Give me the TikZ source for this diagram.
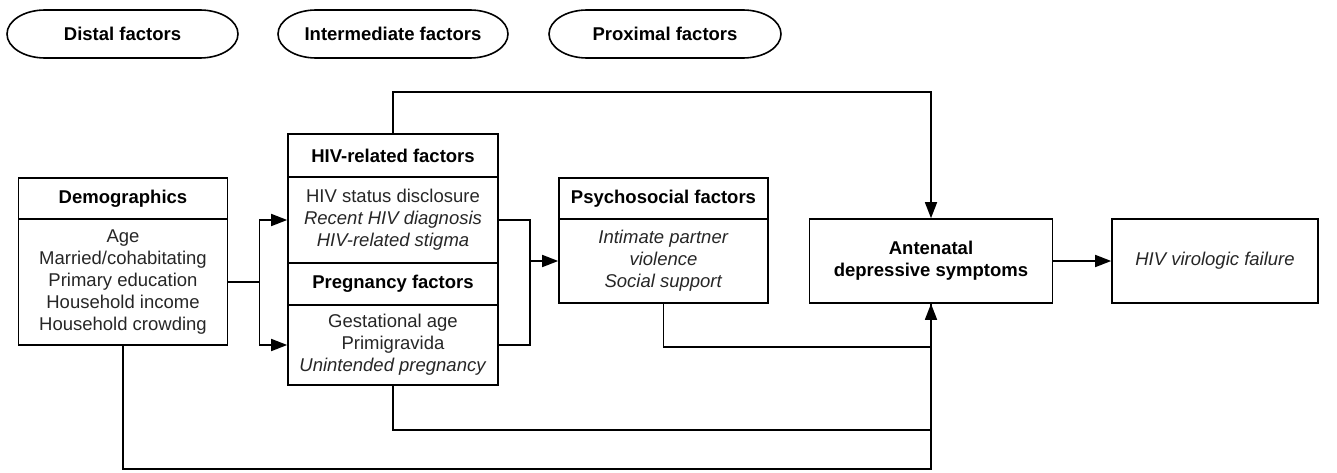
\documentclass[tikz,border=0pt]{standalone}
\usepackage{fontspec}
\setmainfont{Liberation Sans}
\usetikzlibrary{arrows.meta}
\newcommand{\figfont}{\fontsize{18.5}{22}\selectfont}
\tikzset{
  phase/.style={font=\figfont\bfseries, inner sep=0pt, outer sep=0pt, minimum height=48pt},
  boxsize/.style 2 args={minimum width=#1pt, minimum height=#2pt},
  boxhead/.style={draw, line width=1.6pt, font=\figfont\bfseries, align=center, inner sep=0pt},
  boxbody/.style={draw, line width=1.6pt, font=\figfont, align=center, inner sep=0pt, text=black!85},
  link/.style={line width=1.6pt},
  arr/.style={line width=1.6pt, -{Triangle[length=16pt,width=12pt]}},
}

\begin{document}
\begin{tikzpicture}[x=1pt,y=-1pt]
  \useasboundingbox (0,0) rectangle (1337,473);
  % phase labels
  \node [phase, minimum width=231pt] (distal) at (122.5,34) {Distal factors};
  \node [phase, minimum width=230pt] (inter) at (393,34) {Intermediate factors};
  \node [phase, minimum width=232pt] (proxi) at (665,34) {Proximal factors};
  \foreach \p in {distal,inter,proxi}
    \draw [link] ([xshift=38pt]\p.north west) -- ([xshift=-38pt]\p.north east)
      arc [start angle=90, end angle=-90, x radius=38pt, y radius=24pt]
      -- ([xshift=38pt]\p.south west)
      arc [start angle=270, end angle=90, x radius=38pt, y radius=24pt] -- cycle;
  % distal
  \node [boxhead, boxsize={209}{41}] (demohead) at (123,198.5) {Demographics};
  \node [boxbody, boxsize={209}{126}] (demobody) at (123,282)
    {Age\\Married/cohabitating\\Primary education\\Household income\\Household crowding};
  % intermediate
  \node [boxhead, boxsize={210}{43}] (hivhead) at (393,155.5) {HIV-related factors};
  \node [boxbody, boxsize={210}{86}] (hivbody) at (393,220)
    {HIV status disclosure\\\textit{Recent HIV diagnosis}\\\textit{HIV-related stigma}};
  \node [boxhead, boxsize={210}{42}] (preghead) at (393,284) {Pregnancy factors};
  \node [boxbody, boxsize={210}{80}] (pregbody) at (393,345)
    {Gestational age\\Primigravida\\\textit{Unintended pregnancy}};
  % proximal
  \node [boxhead, boxsize={209}{41}] (psyhead) at (663.5,198.5) {Psychosocial factors};
  \node [boxbody, boxsize={209}{84}] (psybody) at (663.5,261)
    {\textit{Intimate partner}\\\textit{violence}\\\textit{Social support}};
  % outcomes
  \node [boxhead, boxsize={243}{84}] (antenatal) at (931,261) {Antenatal\\depressive symptoms};
  \node [boxbody, boxsize={206}{84}] (viro) at (1215,261) {\textit{HIV virologic failure}};

  % connectors
  \draw [link] (demobody.east) -- ++(31,0) coordinate (split);
  \draw [arr] (split) |- (hivbody.west);
  \draw [arr] (split) |- (pregbody.west);
  \draw [link] (hivbody.east) -- ++(31,0) coordinate (join) |- (pregbody.east);
  \draw [arr] (join |- psybody.west) -- (psybody.west);
  \draw [arr] (hivhead.north) -- ++(0,-41) -| (antenatal.north);
  \draw [link] (psybody.south) -- ++(0,43) -| (antenatal.south);
  \draw [link] (pregbody.south) -- ++(0,44) -| (antenatal.south);
  \draw [arr] (demobody.south) -- ++(0,123) -| (antenatal.south);
  \draw [arr] (antenatal.east) -- (viro.west);
\end{tikzpicture}
\end{document}
